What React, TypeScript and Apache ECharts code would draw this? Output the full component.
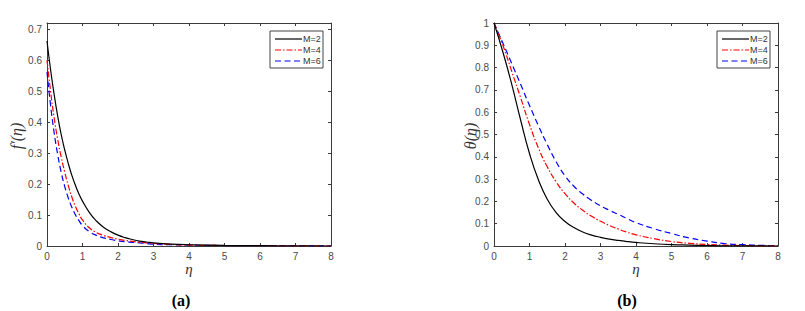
import React, { useEffect, useRef } from "react";
import * as echarts from "echarts";

// Panel (a): f'(eta)
const etaA = [0, 0.1, 0.2, 0.3, 0.4, 0.5, 0.6, 0.7, 0.8, 0.9, 1.0, 1.2, 1.4, 1.6, 1.8, 2.0, 2.2, 2.4, 2.6, 2.8, 3.0, 3.5, 4, 5, 6, 7, 8];
const fM2 = [0.662, 0.57, 0.49, 0.42, 0.36, 0.31, 0.266, 0.228, 0.196, 0.168, 0.145, 0.107, 0.08, 0.06, 0.046, 0.035, 0.027, 0.021, 0.016, 0.013, 0.01, 0.006, 0.004, 0.002, 0.001, 0.0005, 0];
const fM4 = [0.60, 0.50, 0.415, 0.345, 0.287, 0.238, 0.195, 0.158, 0.128, 0.104, 0.084, 0.058, 0.043, 0.034, 0.027, 0.022, 0.018, 0.015, 0.012, 0.01, 0.008, 0.005, 0.003, 0.0015, 0.001, 0.0005, 0];
const fM6 = [0.562, 0.455, 0.367, 0.296, 0.238, 0.192, 0.155, 0.125, 0.101, 0.082, 0.066, 0.046, 0.034, 0.026, 0.021, 0.017, 0.014, 0.012, 0.01, 0.008, 0.006, 0.004, 0.003, 0.0015, 0.001, 0.0005, 0];

// Panel (b): theta(eta)
const etaB = [0, 0.25, 0.5, 0.75, 1, 1.25, 1.5, 1.75, 2, 2.25, 2.5, 2.75, 3, 3.25, 3.5, 3.75, 4, 4.5, 5, 5.5, 6, 6.5, 7, 7.5, 8];
const tM2 = [1, 0.87, 0.725, 0.565, 0.415, 0.297, 0.21, 0.15, 0.11, 0.083, 0.063, 0.049, 0.039, 0.031, 0.025, 0.02, 0.016, 0.01, 0.006, 0.004, 0.002, 0.001, 0.001, 0.0005, 0];
const tM4 = [1, 0.9, 0.783, 0.665, 0.545, 0.44, 0.355, 0.288, 0.235, 0.193, 0.16, 0.133, 0.111, 0.092, 0.076, 0.062, 0.05, 0.033, 0.02, 0.012, 0.007, 0.004, 0.002, 0.001, 0];
const tM6 = [1, 0.91, 0.818, 0.725, 0.63, 0.54, 0.455, 0.378, 0.315, 0.268, 0.233, 0.204, 0.18, 0.16, 0.142, 0.123, 0.105, 0.078, 0.056, 0.036, 0.022, 0.011, 0.006, 0.003, 0.001];

const seriesNames = ["M=2", "M=4", "M=6"];
const seriesColors = ["#000000", "#ff0000", "#0000ff"];
const seriesDashes: any[] = [null, [6, 2, 1.5, 2], [6, 3.5]];

const axisColor = "#3a3a3a";
const labelColor = "#4a4a4a";
const sans = "Liberation Sans, Arial, sans-serif";
const serif = "Liberation Serif, Times New Roman, serif";

function pairs(xs: number[], ys: number[]) {
  return xs.map((x, i) => [x, ys[i]]);
}

function xAxes(gridIndex: number) {
  const common = {
    type: "value",
    gridIndex,
    min: 0,
    max: 8,
    interval: 1,
    splitLine: { show: false },
    axisLine: { show: true, onZero: false, lineStyle: { color: axisColor, width: 1 } },
    axisTick: { show: true, inside: true, length: 3, lineStyle: { color: axisColor } },
  };
  return [
    { ...common, position: "bottom", axisLabel: { show: true, margin: 5, fontSize: 10, color: labelColor, fontFamily: sans } },
    { ...common, position: "top", axisLabel: { show: false } },
  ];
}

function yAxes(gridIndex: number, max: number, hideMax: boolean) {
  const common = {
    type: "value",
    gridIndex,
    min: 0,
    max,
    interval: 0.1,
    splitLine: { show: false },
    axisLine: { show: true, onZero: false, lineStyle: { color: axisColor, width: 1 } },
    axisTick: { show: true, inside: true, length: 3, lineStyle: { color: axisColor } },
  };
  return [
    {
      ...common,
      position: "left",
      axisLabel: { show: true, margin: 5, fontSize: 10, color: labelColor, showMaxLabel: !hideMax, fontFamily: sans },
    },
    { ...common, position: "right", axisLabel: { show: false } },
  ];
}

function makeSeries(xIdx: number, yIdx: number, xs: number[], ys: number[][]) {
  return ys.map((y, i) => ({
    type: "line",
    name: seriesNames[i],
    xAxisIndex: xIdx,
    yAxisIndex: yIdx,
    data: pairs(xs, y),
    smooth: 0.5,
    symbol: "none",
    showSymbol: false,
    lineStyle: { color: seriesColors[i], width: 1.2, type: seriesDashes[i] || "solid" },
    itemStyle: { color: seriesColors[i] },
    z: 3 - i,
  }));
}

function legendGraphic(left: number, top: number) {
  const rows = [8, 19, 30];
  const children: any[] = [
    { type: "rect", shape: { x: 0, y: 0, width: 53, height: 37 }, style: { fill: "#fff", stroke: "#444", lineWidth: 1 } },
  ];
  seriesNames.forEach((name, i) => {
    const style: any = { stroke: seriesColors[i], lineWidth: 1.2 };
    if (seriesDashes[i]) style.lineDash = seriesDashes[i];
    children.push({ type: "line", shape: { x1: 5, y1: rows[i], x2: 32, y2: rows[i] }, style });
    children.push({
      type: "text",
      x: 33,
      y: rows[i],
      style: { text: name, fontFamily: sans, fontSize: 9, fill: "#333", align: "left", verticalAlign: "middle" },
    });
  });
  return { type: "group", x: left, y: top, z: 100, children };
}

export default function App() {
  const ref = useRef<HTMLDivElement>(null);
  useEffect(() => {
    if (!ref.current) return;
    const chart = echarts.init(ref.current, null, { renderer: "svg" });
    chart.setOption({
      animation: false,
      backgroundColor: "#ffffff",
      grid: [
        { left: 47, top: 23, width: 284, height: 223 },
        { left: 494, top: 23, width: 284, height: 223 },
      ],
      xAxis: [...xAxes(0), ...xAxes(1)],
      yAxis: [...yAxes(0, 0.72, true), ...yAxes(1, 1, false)],
      series: [
        ...makeSeries(0, 0, etaA, [fM2, fM4, fM6]),
        ...makeSeries(2, 2, etaB, [tM2, tM4, tM6]),
      ],
      graphic: [
        legendGraphic(270, 31),
        legendGraphic(717, 31),
        { type: "text", x: 16, y: 136, rotation: Math.PI / 2, style: { text: "f′(η)", fontFamily: serif, fontStyle: "italic", fontSize: 16, fill: "#333", align: "center", verticalAlign: "middle" } },
        { type: "text", x: 470, y: 136, rotation: Math.PI / 2, style: { text: "θ(η)", fontFamily: serif, fontStyle: "italic", fontSize: 16, fill: "#333", align: "center", verticalAlign: "middle" } },
        { type: "text", x: 189, y: 269, style: { text: "η", fontFamily: serif, fontStyle: "italic", fontSize: 15, fill: "#333", align: "center", verticalAlign: "middle" } },
        { type: "text", x: 636, y: 269, style: { text: "η", fontFamily: serif, fontStyle: "italic", fontSize: 15, fill: "#333", align: "center", verticalAlign: "middle" } },
        { type: "text", x: 181, y: 300, style: { text: "(a)", fontFamily: serif, fontWeight: "bold", fontSize: 16, fill: "#000", align: "center", verticalAlign: "middle" } },
        { type: "text", x: 627, y: 300, style: { text: "(b)", fontFamily: serif, fontWeight: "bold", fontSize: 16, fill: "#000", align: "center", verticalAlign: "middle" } },
      ],
    });
    return () => chart.dispose();
  }, []);
  return <div ref={ref} style={{ position: "absolute", left: 0, top: 0, width: 805, height: 311 }} />;
}
